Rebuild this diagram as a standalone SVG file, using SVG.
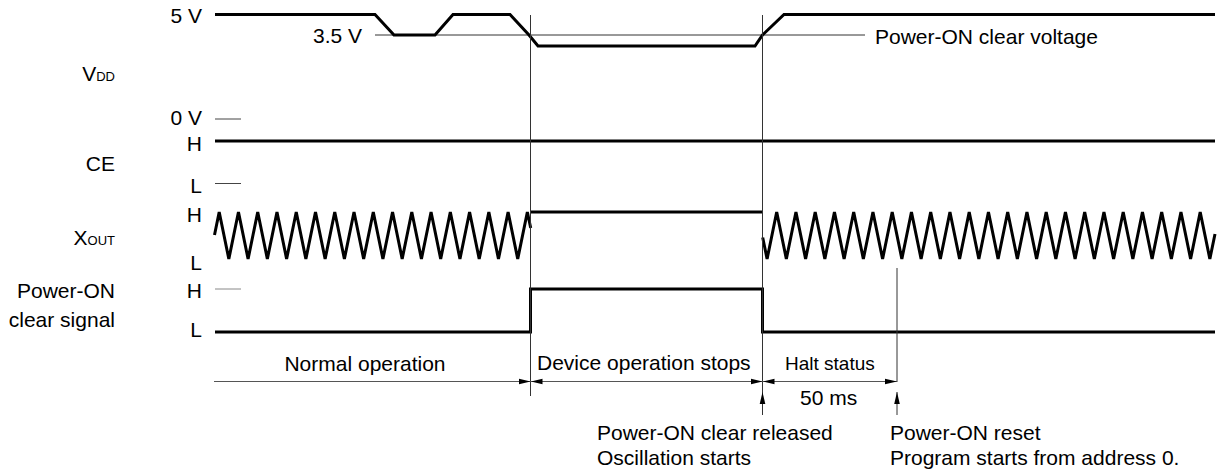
<svg xmlns="http://www.w3.org/2000/svg" width="1217" height="475" viewBox="0 0 1217 475">
<style>
text{font-family:"Liberation Sans",Arial,sans-serif;font-size:21px;fill:#000}
.r{text-anchor:end}
.sig{fill:none;stroke:#000;stroke-width:3;stroke-linejoin:miter}
.thin{fill:none;stroke:#333;stroke-width:1}
.tick{fill:none;stroke:#444;stroke-width:1}
.dim{fill:none;stroke:#555;stroke-width:1.2}
</style>
<defs>
<marker id="ah" markerUnits="userSpaceOnUse" markerWidth="12" markerHeight="8" refX="12" refY="4" orient="auto-start-reverse">
<path d="M0,1.2 L12,4 L0,6.8 z" fill="#000"/>
</marker>
</defs>
<rect width="1217" height="475" fill="#fff"/>

<g id="labels">
<text class="r" x="202" y="23">5 V</text>
<text class="r" x="362" y="43">3.5 V</text>
<text class="r" x="115" y="81">V<tspan font-size="13">DD</tspan></text>
<text class="r" x="202" y="125">0 V</text>
<text class="r" x="202" y="151">H</text>
<text class="r" x="115" y="171">CE</text>
<text class="r" x="202" y="193">L</text>
<text class="r" x="202" y="222">H</text>
<text class="r" x="115" y="245">X<tspan font-size="13">OUT</tspan></text>
<text class="r" x="202" y="270">L</text>
<text class="r" x="202" y="298">H</text>
<text class="r" x="115" y="298">Power-ON</text>
<text class="r" x="115" y="327">clear signal</text>
<text class="r" x="202" y="337">L</text>
<line class="tick" x1="215" y1="119" x2="241" y2="119"/>
<line class="tick" x1="215" y1="183.5" x2="241" y2="183.5"/>
<line x1="215" y1="289" x2="241" y2="289" stroke="#888" stroke-width="1"/>
</g>

<g id="vdd">
<line class="thin" x1="375" y1="35" x2="865" y2="35"/>
<path class="sig" d="M215,14.5 L375,14.5 L394,35 L435,35 L453,14.5 L510,14.5 L529,35 L538,46 L755,46 L762.5,35 L784,14.5 L1215,14.5"/>
<text x="875" y="44">Power-ON clear voltage</text>
</g>

<g id="ce">
<path class="sig" d="M215,141 L1215,141"/>
</g>

<g id="xout">
<path class="sig" d="M214.5,235 L219.2,212 L228.83,259 L238.46,212 L248.09,259 L257.72,212 L267.35,259 L276.98,212 L286.61,259 L296.24,212 L305.87,259 L315.5,212 L325.13,259 L334.76,212 L344.39,259 L354.02,212 L363.65,259 L373.28,212 L382.91,259 L392.54,212 L402.17,259 L411.8,212 L421.43,259 L431.06,212 L440.69,259 L450.32,212 L459.95,259 L469.58,212 L479.21,259 L488.84,212 L498.47,259 L508.1,212 L517.73,259 L527.36,212 L530.7,228"/>
<path class="sig" d="M530.5,212 L762.5,212"/>
<path class="sig" d="M762.7,237.5 L767.1,259 L776.7,212 L786.35,259 L795.95,212 L805.6,259 L815.2,212 L824.85,259 L834.45,212 L844.1,259 L853.7,212 L863.35,259 L872.95,212 L882.6,259 L892.2,212 L901.85,259 L911.45,212 L921.1,259 L930.7,212 L940.35,259 L949.95,212 L959.6,259 L969.2,212 L978.85,259 L988.45,212 L998.1,259 L1007.7,212 L1017.35,259 L1026.95,212 L1036.6,259 L1046.2,212 L1055.85,259 L1065.45,212 L1075.1,259 L1084.7,212 L1094.35,259 L1103.95,212 L1113.6,259 L1123.2,212 L1132.85,259 L1142.45,212 L1152.1,259 L1161.7,212 L1171.35,259 L1180.95,212 L1190.6,259 L1200.2,212 L1209.85,259 L1215,234"/>
</g>

<g id="poc">
<path class="sig" d="M215,332 L530.5,332 L530.5,289 L762.5,289 L762.5,332 L1215,332"/>
</g>

<g id="connectors">
<line class="thin" x1="530.5" y1="15" x2="530.5" y2="396"/>
<line class="thin" x1="762.5" y1="15" x2="762.5" y2="415"/>
<line class="thin" x1="897" y1="268" x2="897" y2="382"/>
<line class="dim" x1="214" y1="381.5" x2="530.5" y2="381.5" marker-end="url(#ah)"/>
<line class="dim" x1="530.5" y1="381.5" x2="762.5" y2="381.5" marker-start="url(#ah)" marker-end="url(#ah)"/>
<line class="dim" x1="762.5" y1="381.5" x2="897" y2="381.5" marker-start="url(#ah)" marker-end="url(#ah)"/>
<line class="thin" x1="762.5" y1="415" x2="762.5" y2="392" marker-end="url(#ah)"/>
<line class="thin" x1="897" y1="415" x2="897" y2="392" marker-end="url(#ah)"/>
</g>

<g id="annotations">
<text x="365" y="371" text-anchor="middle">Normal operation</text>
<text x="537" y="370">Device operation stops</text>
<text x="785" y="370" font-size="19" style="font-size:19px">Halt status</text>
<text x="800" y="405">50 ms</text>
<text x="597" y="440">Power-ON clear released</text>
<text x="597" y="465">Oscillation starts</text>
<text x="890" y="440">Power-ON reset</text>
<text x="890" y="465">Program starts from address 0.</text>
</g>
</svg>
